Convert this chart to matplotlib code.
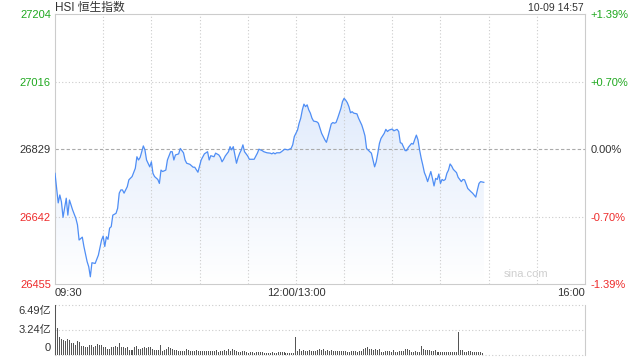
import matplotlib
matplotlib.use("Agg")
import matplotlib.pyplot as plt
import numpy as np
from matplotlib.colors import LinearSegmentedColormap
from matplotlib.patches import Polygon

plt.rcParams['font.family'] = ['Liberation Sans', 'Noto Sans CJK SC', 'DejaVu Sans']

# ---------------- data ----------------
title = "HSI 恒生指数"
timestamp = "10-09 14:57"
prev_close = 26829
y_ticks = [27204, 27016, 26829, 26642, 26455]
pct_labels = ["+1.39%", "+0.70%", "0.00%", "-0.70%", "-1.39%"]
x_tick_minutes = [0, 150, 330]
x_tick_labels = ["09:30", "12:00/13:00", "16:00"]
vol_tick_values = [6.49, 3.24, 0]
vol_tick_labels = ["6.49亿", "3.24亿", "0"]

# minutes since 09:30 (trading minutes, lunch break removed)
minutes = [0, 2, 3, 4, 5, 7, 8, 9, 11, 13, 14, 15, 17, 18, 20, 21, 22, 23, 25, 27,
           29, 30, 31, 32, 33, 34, 35, 36, 38, 39, 40, 41, 42, 43, 45, 46, 48, 50, 51, 52,
           53, 55, 56, 57, 59, 60, 61, 62, 64, 65, 66, 67, 69, 70, 72, 73, 74, 75, 77, 78,
           80, 81, 82, 84, 86, 87, 89, 90, 91, 93, 95, 96, 97, 99, 100, 102, 103, 104, 105, 106,
           108, 109, 110, 111, 113, 114, 115, 116, 117, 118, 120, 121, 124, 126, 127, 129, 130, 132, 134, 135,
           136, 137, 138, 140, 141, 143, 145, 147, 148, 149, 151, 152, 153, 154, 155, 156, 157, 158, 159, 160,
           161, 163, 164, 165, 166, 167, 168, 169, 170, 171, 172, 173, 174, 175, 176, 177, 178, 179, 180, 181,
           182, 183, 184, 185, 186, 188, 189, 191, 192, 193, 194, 196, 197, 198, 199, 200, 201, 202, 203, 205,
           206, 207, 208, 210, 211, 213, 214, 215, 216, 218, 219, 220, 222, 223, 224, 225, 226, 227, 228, 229,
           230, 231, 232, 234, 235, 236, 237, 238, 239, 240, 241, 242, 243, 244, 245, 246, 247, 248, 250, 251,
           253, 254, 255, 256, 257, 259, 260, 262, 263, 264, 265, 267]
prices = [26762, 26680, 26702, 26683, 26640, 26693, 26646, 26688, 26660, 26637, 26619, 26577, 26585, 26559, 26517, 26503, 26475, 26514, 26512, 26535,
          26577, 26588, 26559, 26586, 26579, 26610, 26614, 26646, 26651, 26665, 26707, 26716, 26716, 26707, 26725, 26744, 26753, 26776, 26808, 26799,
          26806, 26838, 26827, 26799, 26780, 26794, 26762, 26753, 26745, 26734, 26771, 26767, 26771, 26799, 26822, 26822, 26799, 26813, 26816, 26831,
          26819, 26799, 26790, 26787, 26779, 26779, 26765, 26782, 26799, 26816, 26822, 26799, 26811, 26808, 26818, 26813, 26806, 26794, 26801, 26810,
          26822, 26836, 26827, 26836, 26790, 26806, 26818, 26827, 26841, 26822, 26810, 26801, 26801, 26818, 26829, 26825, 26822, 26819, 26818, 26816,
          26819, 26816, 26819, 26819, 26822, 26829, 26827, 26831, 26841, 26864, 26882, 26901, 26915, 26938, 26954, 26947, 26952, 26938, 26929, 26915,
          26907, 26905, 26901, 26887, 26873, 26864, 26855, 26848, 26864, 26882, 26899, 26903, 26901, 26903, 26915, 26929, 26942, 26961, 26970, 26965,
          26958, 26947, 26930, 26933, 26929, 26927, 26915, 26896, 26882, 26866, 26831, 26822, 26818, 26799, 26780, 26794, 26818, 26845, 26859, 26873,
          26884, 26878, 26882, 26885, 26880, 26884, 26878, 26847, 26845, 26825, 26825, 26834, 26845, 26843, 26856, 26868, 26855, 26827, 26804, 26785,
          26764, 26753, 26739, 26767, 26748, 26727, 26748, 26745, 26760, 26734, 26745, 26742, 26745, 26762, 26771, 26788, 26782, 26773, 26764, 26751,
          26739, 26745, 26744, 26732, 26720, 26711, 26707, 26696, 26716, 26734, 26739, 26737]

# volume bars (亿), evenly spread from 09:30 to 14:57
volumes = [6.49, 3.5, 2.4, 2.1, 1.9, 1.8, 2.1, 2.0, 1.5, 1.5,
           1.35, 1.8, 1.75, 1.2, 1.15, 1.1, 1.1, 1.35, 1.3, 1.0,
           1.2, 1.4, 1.25, 1.25, 1.1, 1.0, 0.8, 0.8, 1.0, 1.0,
           1.15, 1.1, 1.6, 1.1, 1.0, 0.85, 1.0, 0.65, 0.7, 0.7,
           1.0, 1.2, 0.75, 0.8, 0.85, 1.0, 0.9, 1.0, 1.1, 0.8,
           0.7, 0.7, 0.7, 1.35, 0.55, 0.65, 0.8, 1.0, 0.85, 0.8,
           0.65, 0.65, 0.5, 0.55, 0.55, 0.55, 0.8, 0.65, 0.55, 0.5,
           0.55, 0.65, 0.55, 0.5, 0.55, 0.5, 0.5, 0.55, 0.5, 0.5,
           0.55, 0.65, 0.45, 0.55, 0.55, 0.65, 0.55, 0.8, 0.55, 0.8,
           0.7, 0.55, 0.35, 0.35, 0.55, 0.5, 0.35, 0.3, 0.35, 0.35,
           0.3, 0.35, 0.45, 0.35, 0.35, 0.25,
           0.25, 0.2, 0.25, 0.45, 0.25, 0.2, 0.35, 0.35, 0.35, 0.45,
           0.2, 0.2, 0.2, 0.2, 0.2, 2.4, 0.55, 0.8, 0.55, 0.65,
           0.55, 0.55, 0.65, 0.55, 0.55, 0.55, 0.65, 0.8, 0.65, 0.8,
           0.55, 0.65, 0.55, 0.65, 0.55, 0.55, 0.55, 0.55, 0.55, 0.55,
           0.55, 0.45, 0.45, 0.55, 0.55, 0.55, 0.45, 0.55, 0.55, 0.8,
           0.85, 1.0, 0.8, 0.8, 0.65, 0.8, 0.65, 0.8, 0.45, 0.45,
           0.55, 0.55, 0.55, 0.45, 0.65, 0.45, 0.45, 0.55, 0.55, 0.55,
           0.8, 0.8, 0.65, 0.45, 0.45, 0.55, 0.45, 0.45, 1.2, 0.8,
           0.65, 0.65, 0.65, 0.55, 0.55, 0.65, 0.45, 0.45, 0.45, 0.45,
           0.45, 0.45, 0.45, 0.45, 0.35, 0.45, 0.35, 2.95, 0.65, 0.65,
           0.35, 0.35, 0.55, 0.55, 0.35, 0.45, 0.35, 0.45, 0.45, 0.2]
vol_minutes = np.linspace(0, 266, len(volumes))

# ---------------- style ----------------
GREEN = '#1fa81f'
RED = '#ee2b2b'
DARK = '#333333'
GRID = '#cccccc'
LINE = '#4f8ef5'
tick_colors = [GREEN, GREEN, DARK, RED, RED]

fig = plt.figure(figsize=(6.4, 3.6), dpi=100)
W, H = 640, 360
ax = fig.add_axes([55 / W, 1 - 284 / H, 530 / W, 270 / H])
ax.set_xlim(0, 330)
ax.set_ylim(y_ticks[-1], y_ticks[0])

# gradient fill under the line
xs = np.array(minutes, dtype=float)
ys = np.array(prices, dtype=float)
verts = np.vstack([np.column_stack([xs, ys]),
                   [[xs[-1], y_ticks[-1]], [xs[0], y_ticks[-1]]]])
poly = Polygon(verts, closed=True, facecolor='none', edgecolor='none')
ax.add_patch(poly)
cmap = LinearSegmentedColormap.from_list('g', ['#ffffff', '#d3e2fa'])
grad = np.linspace(0, 1, 256).reshape(-1, 1)
im = ax.imshow(grad, extent=[0, 330, y_ticks[-1], y_ticks[0]], origin='lower',
               aspect='auto', cmap=cmap, zorder=1, interpolation='bilinear')
im.set_clip_path(poly)

ax.plot(xs, ys, color=LINE, lw=0.9, zorder=3)

# grid
for v in y_ticks[1:-1]:
    if v == prev_close:
        ax.axhline(v, color='#aaaaaa', lw=0.8, ls=(0, (3, 2)), zorder=2)
    else:
        ax.axhline(v, color=GRID, lw=0.8, ls=(0, (1, 2)), zorder=2)
for m in range(30, 330, 30):
    ax.axvline(m, color=GRID, lw=0.8, ls=(0, (1, 2)), zorder=2)

for s in ax.spines.values():
    s.set_color(GRID)
    s.set_linewidth(0.8)

ax.set_yticks(y_ticks)
ax.set_yticklabels([str(v) for v in y_ticks])
ax.tick_params(axis='y', length=0, pad=3, labelsize=8)
for lab, c in zip(ax.get_yticklabels(), tick_colors):
    lab.set_color(c)

ax.set_xticks(x_tick_minutes)
ax.set_xticklabels(x_tick_labels)
ax.tick_params(axis='x', length=0, pad=3, labelsize=8, labelcolor=DARK)
xl = ax.get_xticklabels()
xl[0].set_ha('left')
xl[-1].set_ha('right')

ax2 = ax.twinx()
ax2.set_ylim(ax.get_ylim())
ax2.set_yticks(y_ticks)
ax2.set_yticklabels(pct_labels)
ax2.tick_params(axis='y', length=0, pad=4, labelsize=8)
for lab, c in zip(ax2.get_yticklabels(), tick_colors):
    lab.set_color(c)
for s in ax2.spines.values():
    s.set_visible(False)

ax.text(0.931, 0.018, 'sina.com', transform=ax.transAxes, ha='right', va='bottom',
        color='#cfcfcf', fontsize=8)

fig.text(55 / W, 1 - 8 / H, title, ha='left', va='center', fontsize=8.5, color=DARK)
fig.text(584 / W, 1 - 8 / H, timestamp, ha='right', va='center', fontsize=7.5, color=DARK)

# volume panel
axv = fig.add_axes([55 / W, 5 / H, 530 / W, 50 / H])
axv.set_xlim(0, 330)
axv.set_ylim(0, vol_tick_values[0])
axv.vlines(vol_minutes, 0, volumes, colors='#555555', linewidth=0.72,
           antialiased=False, zorder=3)
for v in vol_tick_values:
    axv.axhline(v, color=GRID, lw=0.8, ls=(0, (1, 2)), zorder=1, clip_on=False)
for k in ['top', 'bottom']:
    axv.spines[k].set_visible(False)
for k in ['left', 'right']:
    axv.spines[k].set_color(GRID)
    axv.spines[k].set_linewidth(0.8)
axv.set_xticks([])
axv.set_yticks([])
vol_label_y = [311, 330, 348]
for lab, yy in zip(vol_tick_labels, vol_label_y):
    fig.text(51 / W, 1 - yy / H, lab, ha='right', va='center', fontsize=8, color=DARK)

fig.savefig('out.png', dpi=100)
